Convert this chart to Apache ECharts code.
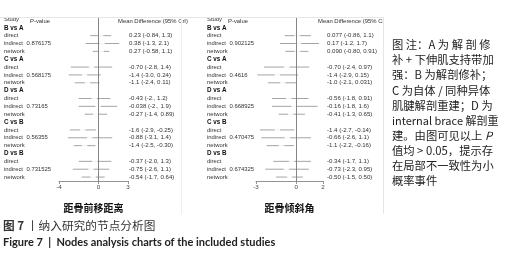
<!DOCTYPE html>
<html>
<head>
<meta charset="utf-8">
<script src="https://cdn.jsdelivr.net/npm/echarts@6/dist/echarts.min.js"></script>
<style>
  html, body { margin: 0; padding: 0; background: #fff; }
  #chart { width: 505px; height: 257px; }
</style>
</head>
<body>
<div id="chart"></div>
<script>
// 比較組與研究類型
const groups = ['B vs A', 'C vs A', 'D vs A', 'C vs B', 'D vs B'];
const studies = ['direct', 'indirect', 'network'];

// 距骨前移距离
const pLeft = ['0.876175', '0.568175', '0.73165', '0.56355', '0.731525'];
const mdLeft = [
  '0.23 (-0.84, 1.3)', '0.38 (-1.3, 2.1)', '0.27 (-0.58, 1.1)',
  '-0.70 (-2.8, 1.4)', '-1.4 (-3.0, 0.24)', '-1.1 (-2.4, 0.11)',
  '-0.43 (-2., 1.2)', '-0.038 (-2., 1.9)', '-0.27 (-1.4, 0.89)',
  '-1.6 (-2.9, -0.25)', '-0.88 (-3.1, 1.4)', '-1.4 (-2.5, -0.30)',
  '-0.37 (-2.0, 1.3)', '-0.75 (-2.6, 1.1)', '-0.54 (-1.7, 0.64)'
];
const ticksLeft = [-4, 0, 3];

// 距骨倾斜角
const pRight = ['0.902125', '0.4616', '0.668925', '0.470475', '0.674325'];
const mdRight = [
  '0.077 (-0.86, 1.1)', '0.17 (-1.2, 1.7)', '0.090 (-0.80, 0.91)',
  '-0.70 (-2.4, 0.97)', '-1.4 (-2.9, 0.15)', '-1.0 (-2.1, 0.031)',
  '-0.56 (-1.8, 0.91)', '-0.16 (-1.8, 1.6)', '-0.41 (-1.3, 0.65)',
  '-1.4 (-2.7, -0.14)', '-0.66 (-2.6, 1.1)', '-1.1 (-2.2, -0.16)',
  '-0.34 (-1.7, 1.1)', '-0.73 (-2.3, 0.95)', '-0.50 (-1.5, 0.50)'
];
const ticksRight = [-3, 0, 2];

const noteLines = [
  '图 注：A 为 解 剖 修',
  '补 + 下伸肌支持带加',
  '强：B 为解剖修补；',
  'C 为自体 / 同种异体',
  '肌腱解剖重建；D 为',
  'internal brace 解剖重',
  '建。由图可见以上 {i|P}',
  '值均 > 0.05，提示存',
  '在局部不一致性为小',
  '概率事件'
];

const SMALL = 'Liberation Sans';
const CJK = 'Noto Sans CJK SC';
const ROWS = 21;

// 把每一組展開成列
const buildRows = (pvals, md) => {
  const rows = [];
  groups.forEach((g, gi) => {
    rows.push({ row: 1 + gi * 4, kind: 'group', text: g });
    studies.forEach((s, si) => {
      const m = md[gi * 3 + si].match(/^(-?[\d.]+) \((-?[\d.]+), (-?[\d.]+)\)$/);
      rows.push({
        row: 2 + gi * 4 + si,
        kind: 'study',
        study: s,
        p: si === 1 ? pvals[gi] : '',
        md: md[gi * 3 + si],
        est: parseFloat(m[1]),
        lo: parseFloat(m[2]),
        hi: parseFloat(m[3])
      });
    });
  });
  return rows;
};

const rowsLeft = buildRows(pLeft, mdLeft);
const rowsRight = buildRows(pRight, mdRight);

const txt = (x, y, text, extra) => ({
  type: 'text', x, y,
  style: Object.assign({
    text, fill: '#333', fontSize: 5.9, fontFamily: SMALL,
    verticalAlign: 'middle', align: 'left'
  }, extra || {})
});

// 文字欄位（study / p-value / mean difference）
const labelSeries = (rows, gridIndex, cols) => ({
  type: 'custom',
  xAxisIndex: gridIndex,
  yAxisIndex: gridIndex,
  silent: true,
  clip: false,
  data: [[0, 0]].concat(rows.map((r) => [0, r.row])),
  renderItem: (params, api) => {
    const y = api.coord([0, api.value(1)])[1];
    if (params.dataIndex === 0) {
      return {
        type: 'group',
        children: [
          txt(cols.study, y - 0.5, 'Study'),
          txt(cols.pHead, y + 1.5, 'P-value'),
          txt(cols.mdHead, y + 1.5, cols.mdTitle)
        ]
      };
    }
    const r = rows[params.dataIndex - 1];
    if (r.kind === 'group') {
      return txt(cols.study, y, r.text, { fill: '#111', fontWeight: 'bold', fontSize: 6.3 });
    }
    return {
      type: 'group',
      children: [
        txt(cols.study, y, r.study),
        txt(cols.p, y, r.p),
        txt(cols.md, y, r.md, { fontSize: 6.1 })
      ]
    };
  }
});

const ciSeries = (rows, gridIndex) => ({
  type: 'custom',
  xAxisIndex: gridIndex,
  yAxisIndex: gridIndex,
  silent: true,
  clip: false,
  data: rows.filter((r) => r.kind === 'study').map((r) => [r.lo, r.hi, r.row]),
  encode: { x: [0, 1], y: 2 },
  renderItem: (params, api) => {
    const a = api.coord([api.value(0), api.value(2)]);
    const b = api.coord([api.value(1), api.value(2)]);
    return {
      type: 'line',
      shape: { x1: a[0], y1: a[1], x2: b[0], y2: b[1] },
      style: { stroke: '#9a9a9a', lineWidth: 0.9 }
    };
  }
});

const pointSeries = (rows, gridIndex) => ({
  type: 'scatter',
  xAxisIndex: gridIndex,
  yAxisIndex: gridIndex,
  silent: true,
  symbol: 'emptyCircle',
  symbolSize: 3.6,
  itemStyle: { color: '#fff', borderColor: '#555', borderWidth: 0.8 },
  data: rows.filter((r) => r.kind === 'study').map((r) => [r.est, r.row]),
  markLine: {
    silent: true,
    symbol: 'none',
    label: { show: false },
    lineStyle: { color: '#777', type: 'solid', width: 0.9 },
    data: [{ xAxis: 0 }]
  },
  z: 3
});

const xAxisOf = (gridIndex, min, max, ticks, name) => ({
  type: 'value',
  gridIndex,
  min,
  max,
  name,
  nameLocation: 'middle',
  nameGap: 22,
  nameTextStyle: { fontFamily: CJK, fontSize: 10, fontWeight: 'bold', color: '#111' },
  axisLine: { show: true, onZero: false, lineStyle: { color: '#888', width: 0.9 } },
  axisTick: { show: true, length: 3, customValues: ticks, lineStyle: { color: '#888', width: 0.9 } },
  axisLabel: { customValues: ticks, fontSize: 6.2, color: '#444', margin: 3, fontFamily: SMALL },
  splitLine: { show: false }
});

const yAxisOf = (gridIndex) => ({
  type: 'value',
  gridIndex,
  min: -0.5,
  max: ROWS - 0.5,
  inverse: true,
  show: false
});

const chart = echarts.init(document.getElementById('chart'), null, { renderer: 'canvas' });

chart.setOption({
  backgroundColor: '#fff',
  animation: false,
  grid: [
    { left: 59, width: 69, top: 16, height: 165 },
    { left: 256, width: 67, top: 16, height: 165 }
  ],
  xAxis: [
    xAxisOf(0, -4, 3, ticksLeft, '距骨前移距离'),
    xAxisOf(1, -3, 2, ticksRight, '距骨倾斜角')
  ],
  yAxis: [yAxisOf(0), yAxisOf(1)],
  series: [
    ciSeries(rowsLeft, 0),
    pointSeries(rowsLeft, 0),
    labelSeries(rowsLeft, 0, { study: 4, pHead: 30, p: 26.5, mdHead: 118, md: 129, mdTitle: 'Mean Difference (95% CrI)' }),
    ciSeries(rowsRight, 1),
    pointSeries(rowsRight, 1),
    labelSeries(rowsRight, 1, { study: 207, pHead: 228, p: 229.5, mdHead: 318, md: 327, mdTitle: 'Mean Difference (95% CrI)' })
  ],
  graphic: [
    // 上方裁切
    { type: 'rect', z: 100, shape: { x: 0, y: 0, width: 383, height: 17.5 }, style: { fill: '#fff' } },
    // 右側註解區
    { type: 'rect', z: 100, shape: { x: 383, y: 0, width: 122, height: 215 }, style: { fill: '#fff' } },
    { type: 'line', z: 101, shape: { x1: 0, y1: 17.5, x2: 383, y2: 17.5 }, style: { stroke: '#e6e6e6', lineWidth: 1 } },
    { type: 'line', z: 101, shape: { x1: 383.5, y1: 17, x2: 383.5, y2: 214 }, style: { stroke: '#e6e6e6', lineWidth: 1 } },
    { type: 'line', z: 101, shape: { x1: 181.5, y1: 17, x2: 181.5, y2: 214 }, style: { stroke: '#eeeeee', lineWidth: 1 } }
  ].concat(noteLines.map((line, i) => ({
    type: 'text',
    z: 102,
    x: 392,
    y: 45 + i * 15.1,
    style: {
      text: line,
      fontFamily: CJK,
      fontSize: i === 5 ? 11 : 11.3,
      fill: '#222',
      verticalAlign: 'middle',
      rich: { i: { fontFamily: CJK, fontStyle: 'italic', fontSize: 11.3, fill: '#222' } }
    }
  }))).concat([
    {
      type: 'text', z: 102, x: 3, y: 226,
      style: {
        text: '{b|图 7} 丨纳入研究的节点分析图',
        fontFamily: CJK, fontSize: 11.7, fill: '#333', verticalAlign: 'middle',
        rich: { b: { fontFamily: CJK, fontSize: 11.7, fontWeight: 'bold', fill: '#333' } }
      }
    },
    {
      type: 'text', z: 102, x: 3, y: 242,
      style: {
        text: 'Figure 7  |  Nodes analysis charts of the included studies',
        fontFamily: 'Lato', fontSize: 11, fontWeight: 'bold', fill: '#222', verticalAlign: 'middle'
      }
    }
  ])
});
</script>
</body>
</html>
